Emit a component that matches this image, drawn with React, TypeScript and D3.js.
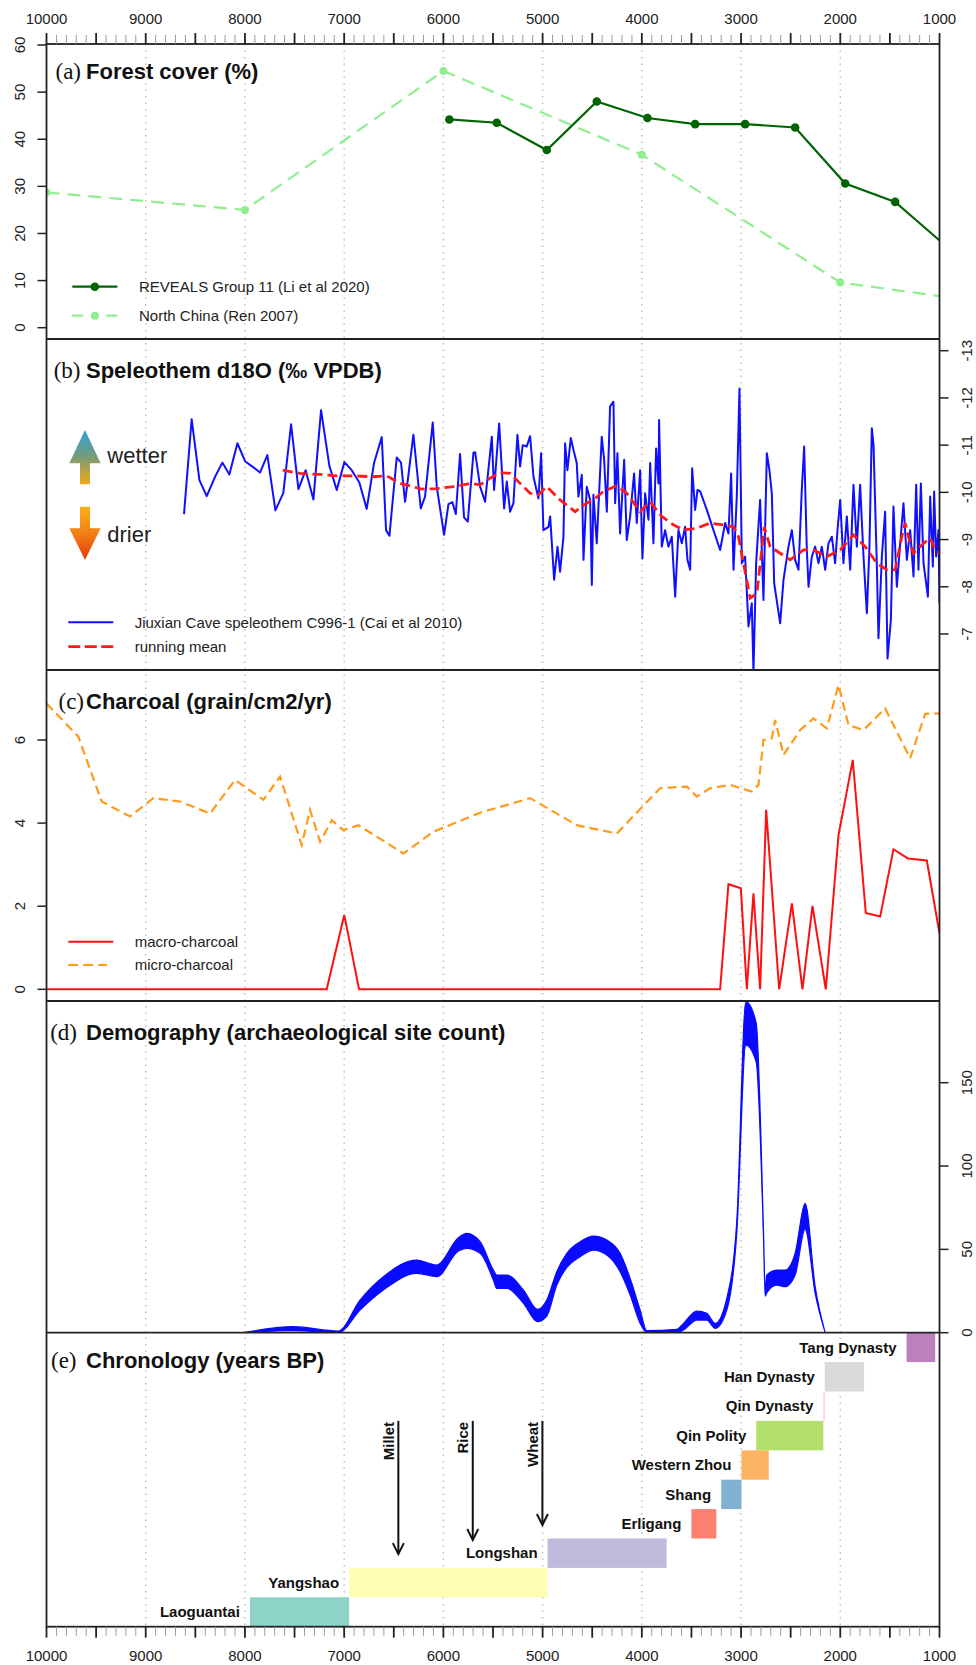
import React from "react";
import * as d3 from "d3";

// ---------------- shared axis ----------------
const xLabelYears = [10000, 9000, 8000, 7000, 6000, 5000, 4000, 3000, 2000, 1000];
const gridYears = [9000, 8000, 7000, 6000, 5000, 4000, 3000, 2000];

// ---------------- (a) Forest cover ----------------
const revealsYears = [5940, 5462, 4958, 4454, 3943, 3463, 2959, 2455, 1950, 1447, 950];
const revealsCover = [44.2, 43.5, 37.7, 48.0, 44.5, 43.2, 43.2, 42.5, 30.6, 26.7, 17.6];
const renYears = [10000, 8000, 6000, 4000, 2000, 0];
const renCover = [28.7, 25.0, 54.5, 36.7, 9.6, 3.8];
const forestTicks = [0, 10, 20, 30, 40, 50, 60];

// ---------------- (b) Speleothem ----------------
const speleoYears = [
  8614, 8537, 8459, 8385, 8301, 8228, 8157, 8076, 7999, 7915,
  7848, 7774, 7693, 7613, 7535, 7461, 7388, 7310, 7233, 7149,
  7075, 6998, 6924, 6847, 6773, 6699, 6621, 6578, 6544, 6470,
  6427, 6386, 6302, 6228, 6185, 6107, 6067, 5993, 5949, 5909,
  5875, 5832, 5792, 5754, 5697, 5680,
  5630, 5580, 5512, 5489, 5438, 5388, 5361, 5328, 5294, 5254,
  5227, 5200, 5160, 5126, 5092, 5042, 5015, 4992, 4941, 4924,
  4884, 4850, 4824, 4790, 4773, 4750, 4716, 4689, 4656, 4639,
  4605, 4588, 4555, 4521, 4504, 4488, 4454, 4404, 4380, 4353,
  4320, 4286, 4269, 4246, 4219, 4178, 4152, 4118, 4078, 4051,
  4017, 3994, 3967, 3933, 3916, 3883, 3856, 3832, 3826, 3799,
  3765, 3732, 3698, 3664, 3631, 3597, 3564, 3540, 3513, 3493,
  3463, 3439, 3412, 3345, 3278, 3211, 3160, 3127, 3100, 3076,
  3043, 3016, 2992, 2959, 2925, 2892, 2875, 2848, 2808, 2774,
  2740, 2714, 2690, 2666, 2606, 2572, 2522, 2488, 2455, 2421,
  2388, 2364, 2337, 2320, 2287, 2253, 2220, 2186, 2152, 2119,
  2085, 2052, 2028, 2001, 1968, 1934, 1900, 1867, 1833, 1800,
  1766, 1732, 1706, 1682, 1665, 1632, 1615, 1581, 1548, 1524,
  1490, 1464, 1430, 1396, 1363, 1329, 1296, 1262, 1235, 1212,
  1188, 1161, 1117, 1094, 1067, 1054, 1034, 1010, 1000,
];
const speleoD18O = [
  -9.54, -11.55, -10.26, -9.92, -10.33, -10.63, -10.38, -11.04, -10.66, -10.53,
  -10.42, -10.79, -9.62, -9.99, -11.44, -10.07, -10.47, -9.85, -11.74, -10.56,
  -10.05, -10.64, -10.47, -10.21, -9.65, -10.62, -11.17, -9.2, -9.08, -10.74,
  -10.63, -9.8, -11.22, -9.66, -9.91, -11.48, -10.12, -9.1, -9.75, -9.79,
  -9.54, -10.81, -9.47, -9.38, -10.84, -10.85,
  -10.12, -9.8, -11.18, -10.05, -11.46, -9.66, -10.23, -9.59, -9.77, -11.22,
  -10.55, -11.0, -10.97, -11.19, -10.33, -9.87, -10.83, -9.2, -9.27, -9.49,
  -8.15, -8.85, -8.32, -9.06, -11.04, -10.47, -11.15, -10.9, -10.62, -9.91,
  -10.37, -8.57, -10.12, -9.84, -8.04, -9.95, -8.92, -11.18, -10.69, -9.59,
  -11.82, -11.92, -9.77, -10.83, -9.13, -10.69, -8.99, -9.49, -10.4, -9.35,
  -10.47, -8.6, -9.98, -9.42, -10.62, -8.92, -10.93, -10.19, -11.53, -8.85,
  -9.2, -8.85, -9.06, -7.79, -9.2, -8.92, -9.27, -8.57, -8.36, -10.51,
  -9.63, -10.05, -10.02, -9.63, -9.2, -8.78, -9.35, -9.13, -10.4, -8.36,
  -9.91, -12.2, -8.5, -8.64, -7.16, -7.65, -6.2, -8.5, -9.84, -7.72,
  -10.83, -10.47, -9.98, -8.07, -7.23, -8.15, -8.85, -9.2, -8.57, -8.36,
  -10.05, -10.97, -8.78, -8.0, -8.64, -8.85, -8.5, -8.85, -8.36, -8.92,
  -9.06, -8.5, -9.2, -9.84, -8.5, -9.49, -8.36, -10.16, -8.85, -10.16,
  -8.64, -7.44, -8.85, -11.36, -11.0, -8.5, -6.91, -8.64, -9.59, -6.48,
  -7.3, -9.7, -8.0, -8.92, -9.77, -8.57, -9.2, -8.22, -10.16, -8.36,
  -10.19, -8.5, -7.79, -9.91, -8.43, -10.02, -8.64, -9.2, -7.65,
];
const meanYears = [
  7619, 7445, 7243, 7075, 6907, 6706, 6571, 6437, 6218, 6067,
  5899, 5731, 5630, 5529, 5428, 5328, 5227, 5126, 5042, 4958,
  4824, 4672, 4588, 4471, 4387, 4252, 4152, 4017, 3916, 3799,
  3681, 3580, 3446, 3312, 3177, 3076, 3026, 2976, 2908, 2841,
  2791, 2767, 2707, 2606, 2505, 2371, 2270, 2136, 2001, 1867,
  1749, 1632, 1531, 1447, 1380, 1346, 1296, 1262, 1161, 1094,
  1044, 1000,
];
const meanD18O = [
  -10.47, -10.4, -10.38, -10.35, -10.35, -10.33, -10.35, -10.19, -10.07, -10.08,
  -10.12, -10.19, -10.16, -10.3, -10.42, -10.4, -10.19, -9.98, -9.95, -10.12,
  -9.84, -9.59, -9.73, -9.87, -10.02, -10.14, -9.98, -9.59, -9.8, -9.49,
  -9.31, -9.2, -9.24, -9.35, -9.31, -9.27, -9.06, -8.5, -7.76, -7.86,
  -8.78, -9.27, -8.85, -8.71, -8.57, -8.78, -8.78, -8.64, -8.78, -9.1,
  -8.85, -8.5, -8.36, -8.36, -9.06, -9.35, -8.92, -8.71, -8.92, -9.03,
  -8.78, -8.71,
];
const d18OTicks = [-13, -12, -11, -10, -9, -8, -7];

// ---------------- (c) Charcoal ----------------
const microYears = [
  10000, 9679, 9444, 9158, 8923, 8654, 8352, 8100, 7814, 7646,
  7428, 7344, 7243, 7125, 7008, 6857, 6403, 6101, 5630, 5126,
  4656, 4252, 3816, 3547, 3446, 3312, 3110, 2892, 2824, 2774,
  2690, 2656, 2572, 2404, 2270, 2136, 2018, 1917, 1766, 1548,
  1296, 1144, 1000,
];
const microCharcoal = [
  6.88, 6.08, 4.52, 4.16, 4.6, 4.52, 4.23, 5.04, 4.56, 5.12,
  3.47, 4.32, 3.55, 4.07, 3.83, 3.95, 3.27, 3.79, 4.25, 4.6,
  3.95, 3.75, 4.84, 4.88, 4.64, 4.84, 4.92, 4.76, 4.92, 6.0,
  6.04, 6.48, 5.64, 6.24, 6.52, 6.28, 7.32, 6.36, 6.24, 6.76,
  5.56, 6.63, 6.64,
];
const macroYears = [
  10000, 7176, 6999, 6850, 3211, 3127, 3002, 2942, 2875, 2808,
  2747, 2616, 2488, 2381, 2280, 2146, 2018, 1874, 1743, 1598,
  1464, 1319, 1128, 1000,
];
const macroCharcoal = [
  0, 0, 1.79, 0, 0, 2.53, 2.43, 0, 2.31, 0,
  4.32, 0, 2.07, 0, 2.01, 0, 3.71, 5.52, 1.84, 1.75,
  3.37, 3.15, 3.1, 1.35,
];
const charcoalTicks = [0, 2, 4, 6];

// ---------------- (d) Demography ----------------
const demoYears = [
  8016, 7512, 7058, 6840, 6605, 6269, 6067, 5849, 5765, 5630,
  5496, 5462, 5361, 5193, 5052, 4958, 4857, 4756, 4622, 4488,
  4353, 4219, 4118, 4017, 3950, 3648, 3580, 3446, 3345, 3261,
  3144, 3043, 2952, 2848, 2774, 2757, 2740, 2640, 2556, 2455,
  2354, 2253, 2152,
];
const demoHigh = [
  0, 3.6, 1.0, 19.6, 33.6, 43.6, 40.6, 57.0, 59.6, 54.6,
  37.6, 34.6, 34.6, 25.6, 14.0, 19.6, 36.6, 47.6, 54.6, 58.0,
  55.6, 47.6, 32.6, 13.6, 1.2, 2.0, 5.6, 13.0, 11.6, 5.6,
  20.6, 67.0, 198.6, 186.0, 61.6, 25.0, 34.6, 37.6, 37.6, 47.6,
  77.6, 27.6, 0,
];
const demoLow = [
  0, 1.2, 0, 13.6, 25.6, 35.6, 33.6, 49.0, 50.6, 47.6,
  31.6, 26.6, 26.6, 17.6, 6.6, 10.0, 28.6, 39.2, 45.6, 49.6,
  46.6, 36.6, 22.6, 5.6, 0, 0, 1.6, 7.6, 7.6, 2.6,
  13.6, 60.0, 172.6, 162.6, 58.0, 22.0, 24.0, 28.6, 27.6, 34.6,
  62.0, 23.6, 0,
];
const demoTicks = [0, 50, 100, 150];

// ---------------- (e) Chronology ----------------
const periods = [
  "Laoguantai", "Yangshao", "Longshan", "Erligang", "Shang",
  "Western Zhou", "Qin Polity", "Qin Dynasty", "Han Dynasty", "Tang Dynasty",
];
const periodStart = [7950, 6950, 4950, 3500, 3200, 2996, 2847, 2171, 2156, 1332];
const periodEnd = [6950, 4950, 3750, 3250, 2996, 2721, 2171, 2156, 1760, 1043];
const periodColors = [
  "#8DD3C7", "#FFFFB3", "#BEBADA", "#FB8072", "#80B1D3",
  "#FDB462", "#B3DE69", "#FCCDE5", "#D9D9D9", "#BC80BD",
];
const crops = ["Millet", "Rice", "Wheat"];
const cropYears = [6454, 5704, 5002];
const cropArrowTop = [7.0, 7.0, 7.0];
const cropArrowTip = [2.47, 2.95, 3.46];

const SANS = "'Liberation Sans', Arial, Helvetica, sans-serif";
const SERIF = "'Liberation Serif', 'Times New Roman', serif";

type P = [number, number];
const zip = (a: number[], b: number[]): P[] => a.map((v, i) => [v, b[i]] as P);

export default function App() {
  const W = 976;
  const H = 1665;
  const X0 = 46.5;
  const X1 = 939.5;
  const x = d3.scaleLinear().domain([10000, 1000]).range([X0, X1]);
  const tops = [44, 339, 670, 1001, 1332.7];
  const bottoms = [339, 670, 1001, 1332.7, 1626.7];

  const yA = d3.scaleLinear().domain([0, 60]).range([327.7, 45]);
  const yB = d3.scaleLinear().domain([-13, -7]).range([350.7, 634]);
  const yC = d3.scaleLinear().domain([0, 6]).range([989.3, 740]);
  const yD = d3.scaleLinear().domain([0, 150]).range([1332.7, 1082.7]);
  const yE = d3.scaleLinear().domain([0, 10]).range([1626.7, 1332.7]);

  const mk = (ys: d3.ScaleLinear<number, number>) =>
    d3.line<P>().x((d) => x(d[0])).y((d) => ys(d[1]));

  const revealsPts = zip(revealsYears, revealsCover);
  const renPts = zip(renYears, renCover);

  const demoData = demoYears.map((yr, i) => ({ yr, hi: demoHigh[i], lo: demoLow[i] }));
  const demoArea = d3
    .area<{ yr: number; hi: number; lo: number }>()
    .x((d) => x(d.yr))
    .y0((d) => yD(d.lo))
    .y1((d) => yD(d.hi))
    .curve(d3.curveMonotoneX)(demoData);

  const majorTicks = d3.range(10000, 999, -500);
  const minorTicks = d3.range(10000, 999, -100).filter((v) => v % 500 !== 0);

  const txt = { fontFamily: SANS, fill: "#222" } as const;

  const leftAxis = (ticks: number[], ys: d3.ScaleLinear<number, number>, key: string) => (
    <g key={key}>
      {ticks.map((t) => (
        <g key={t}>
          <line x1={X0 - 9} x2={X0} y1={ys(t)} y2={ys(t)} stroke="#222" strokeWidth={1.5} />
          <text
            transform={`translate(20,${ys(t)}) rotate(-90)`}
            textAnchor="middle"
            dy="0.35em"
            fontSize={15}
            {...txt}
          >
            {t}
          </text>
        </g>
      ))}
    </g>
  );
  const rightAxis = (ticks: number[], ys: d3.ScaleLinear<number, number>, key: string) => (
    <g key={key}>
      {ticks.map((t) => (
        <g key={t}>
          <line x1={X1} x2={X1 + 9} y1={ys(t)} y2={ys(t)} stroke="#222" strokeWidth={1.5} />
          <text
            transform={`translate(967,${ys(t)}) rotate(-90)`}
            textAnchor="middle"
            dy="0.35em"
            fontSize={15}
            {...txt}
          >
            {t}
          </text>
        </g>
      ))}
    </g>
  );

  const title = (lab: string, labEnd: number, t: string, base: number) => (
    <g key={lab}>
      <text x={labEnd} y={base} textAnchor="end" fontFamily={SERIF} fontSize={23} fill="#111">
        {lab}
      </text>
      <text x={86} y={base} fontFamily={SANS} fontWeight="bold" fontSize={22} fill="#111">
        {t}
      </text>
    </g>
  );

  return (
    <svg
      width={W}
      height={H}
      viewBox={`0 0 ${W} ${H}`}
      style={{ position: "absolute", left: 0, top: 0, background: "#fff" }}
    >
      <defs>
        {tops.map((t, i) => (
          <clipPath id={`clip${i}`} key={i}>
            <rect x={X0} y={t} width={X1 - X0} height={bottoms[i] - t} />
          </clipPath>
        ))}
        <linearGradient id="gUp" x1="0" y1="0" x2="0" y2="1">
          <stop offset="0%" stopColor="#2AA3DE" />
          <stop offset="45%" stopColor="#6E9C80" />
          <stop offset="100%" stopColor="#F0A818" />
        </linearGradient>
        <linearGradient id="gDown" x1="0" y1="0" x2="0" y2="1">
          <stop offset="0%" stopColor="#F9B01A" />
          <stop offset="55%" stopColor="#F17A12" />
          <stop offset="100%" stopColor="#E4360C" />
        </linearGradient>
      </defs>
      <rect x={0} y={0} width={W} height={H} fill="#fff" />

      {/* grid */}
      {gridYears.map((g) => (
        <line
          key={g}
          x1={x(g)}
          x2={x(g)}
          y1={44}
          y2={1626.7}
          stroke="#BDBDBD"
          strokeWidth={1.4}
          strokeDasharray="1.5,5"
        />
      ))}

      {/* ---------- (a) ---------- */}
      <g clipPath="url(#clip0)">
        <path d={mk(yA)(renPts) ?? ""} fill="none" stroke="#90EE90" strokeWidth={2.2} strokeDasharray="13,8" />
        {renPts.map((d, i) => (
          <circle key={i} cx={x(d[0])} cy={yA(d[1])} r={4} fill="#90EE90" />
        ))}
        <path d={mk(yA)(revealsPts) ?? ""} fill="none" stroke="#006400" strokeWidth={2.2} />
        {revealsPts.map((d, i) => (
          <circle key={i} cx={x(d[0])} cy={yA(d[1])} r={4.3} fill="#006400" />
        ))}
      </g>
      {title("(a)", 81, "Forest cover (%)", 79)}
      <g>
        <line x1={72.3} x2={117.3} y1={286.7} y2={286.7} stroke="#006400" strokeWidth={2.2} />
        <circle cx={94.8} cy={286.7} r={4.3} fill="#006400" />
        <text x={139} y={286.7} dy="0.35em" fontSize={15} {...txt}>
          REVEALS Group 11 (Li et al 2020)
        </text>
        <line x1={72.3} x2={117.3} y1={315.7} y2={315.7} stroke="#90EE90" strokeWidth={2.2} strokeDasharray="11,23" />
        <circle cx={94.8} cy={315.7} r={4} fill="#90EE90" />
        <text x={139} y={315.7} dy="0.35em" fontSize={15} {...txt}>
          North China (Ren 2007)
        </text>
      </g>
      {leftAxis(forestTicks, yA, "axA")}

      {/* ---------- (b) ---------- */}
      <g clipPath="url(#clip1)">
        <path d={mk(yB)(zip(speleoYears, speleoD18O)) ?? ""} fill="none" stroke="#1010FF" strokeWidth={2} strokeLinejoin="round" />
        <path d={mk(yB)(zip(meanYears, meanD18O)) ?? ""} fill="none" stroke="#FF1A1A" strokeWidth={2.8} strokeDasharray="10,5" />
      </g>
      {title("(b)", 80.5, "Speleothem d18O (\u2030 VPDB)", 378)}
      <path d="M85,430 L100.7,463.3 L90,463.3 L90,484.3 L80,484.3 L80,463.3 L69.3,463.3 Z" fill="url(#gUp)" />
      <path d="M80,506.7 L90,506.7 L90,528.3 L100.7,528.3 L85,560 L69.3,528.3 L80,528.3 Z" fill="url(#gDown)" />
      <text x={107.3} y={463} fontSize={22} {...txt}>
        wetter
      </text>
      <text x={107.3} y={541.5} fontSize={22} {...txt}>
        drier
      </text>
      <line x1={68.3} x2={113.3} y1={622.3} y2={622.3} stroke="#1010FF" strokeWidth={2} />
      <text x={134.7} y={622.3} dy="0.35em" fontSize={15} {...txt}>
        Jiuxian Cave speleothem C996-1 (Cai et al 2010)
      </text>
      <line x1={68.3} x2={113.3} y1={646.7} y2={646.7} stroke="#FF1A1A" strokeWidth={2.8} strokeDasharray="12,4.5" />
      <text x={134.7} y={646.7} dy="0.35em" fontSize={15} {...txt}>
        running mean
      </text>
      {rightAxis(d18OTicks, yB, "axB")}

      {/* ---------- (c) ---------- */}
      <g clipPath="url(#clip2)">
        <path d={mk(yC)(zip(microYears, microCharcoal)) ?? ""} fill="none" stroke="#FF9A1A" strokeWidth={2.2} strokeDasharray="9,5" />
        <path d={mk(yC)(zip(macroYears, macroCharcoal)) ?? ""} fill="none" stroke="#FF1010" strokeWidth={2} />
      </g>
      {title("(c)", 84, "Charcoal (grain/cm2/yr)", 709)}
      <line x1={68.3} x2={113.3} y1={941.7} y2={941.7} stroke="#FF1010" strokeWidth={2} />
      <text x={134.7} y={941.7} dy="0.35em" fontSize={15} {...txt}>
        macro-charcoal
      </text>
      <line x1={68.3} x2={107} y1={965} y2={965} stroke="#FF9A1A" strokeWidth={2.2} strokeDasharray="10,5" />
      <text x={134.7} y={965} dy="0.35em" fontSize={15} {...txt}>
        micro-charcoal
      </text>
      {leftAxis(charcoalTicks, yC, "axC")}

      {/* ---------- (d) ---------- */}
      <g clipPath="url(#clip3)">
        <path d={demoArea ?? ""} fill="#0A0AFF" stroke="#0A0AFF" strokeWidth={1.2} />
      </g>
      {title("(d)", 77, "Demography (archaeological site count)", 1040)}
      {rightAxis(demoTicks, yD, "axD")}

      {/* ---------- (e) ---------- */}
      {periods.map((p, i) => (
        <g key={p}>
          <rect
            x={x(periodStart[i])}
            y={yE(i + 1)}
            width={x(periodEnd[i]) - x(periodStart[i])}
            height={yE(i) - yE(i + 1)}
            fill={periodColors[i]}
          />
          <text
            x={x(periodStart[i]) - 10}
            y={(yE(i) + yE(i + 1)) / 2}
            dy="0.35em"
            textAnchor="end"
            fontSize={15}
            fontWeight="bold"
            fontFamily={SANS}
            fill="#111"
          >
            {p}
          </text>
        </g>
      ))}
      {crops.map((c, i) => {
        const cx = x(cropYears[i]);
        const yt = yE(cropArrowTop[i]);
        const yb = yE(cropArrowTip[i]);
        return (
          <g key={c}>
            <line x1={cx} x2={cx} y1={yt} y2={yb} stroke="#111" strokeWidth={2} />
            <path d={`M${cx - 5.5},${yb - 11} L${cx},${yb} L${cx + 5.5},${yb - 11}`} fill="none" stroke="#111" strokeWidth={2} />
            <text
              transform={`translate(${cx - 10},${yt + 1}) rotate(-90)`}
              textAnchor="end"
              dy="0.35em"
              fontSize={15}
              fontWeight="bold"
              fontFamily={SANS}
              fill="#111"
            >
              {c}
            </text>
          </g>
        );
      })}
      {title("(e)", 76.5, "Chronology (years BP)", 1368)}

      {/* ---------- frame ---------- */}
      {tops.slice(1).map((t) => (
        <line key={t} x1={X0} x2={X1} y1={t} y2={t} stroke="#222" strokeWidth={1.8} />
      ))}
      <rect x={X0} y={44} width={X1 - X0} height={1626.7 - 44} fill="none" stroke="#222" strokeWidth={1.8} />

      {/* top & bottom time axes */}
      {minorTicks.map((t) => (
        <g key={t}>
          <line x1={x(t)} x2={x(t)} y1={35} y2={44} stroke="#9A9A9A" strokeWidth={1} />
          <line x1={x(t)} x2={x(t)} y1={1626.7} y2={1635.7} stroke="#9A9A9A" strokeWidth={1} />
        </g>
      ))}
      {majorTicks.map((t) => (
        <g key={t}>
          <line x1={x(t)} x2={x(t)} y1={33} y2={44} stroke="#222" strokeWidth={1.8} />
          <line x1={x(t)} x2={x(t)} y1={1626.7} y2={1637.7} stroke="#222" strokeWidth={1.8} />
        </g>
      ))}
      {xLabelYears.map((t) => (
        <g key={t}>
          <text x={x(t)} y={19} dy="0.35em" textAnchor="middle" fontSize={15} {...txt}>
            {t}
          </text>
          <text x={x(t)} y={1656} dy="0.35em" textAnchor="middle" fontSize={15} {...txt}>
            {t}
          </text>
        </g>
      ))}
    </svg>
  );
}
